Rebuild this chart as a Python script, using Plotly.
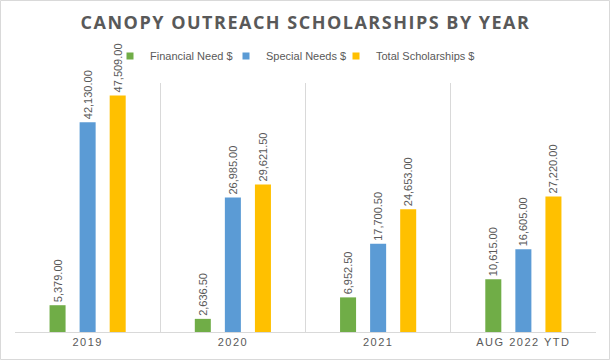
import plotly.graph_objects as go

categories = ["2019", "2020", "2021", "AUG 2022 YTD"]
financial_need = [5379.00, 2636.50, 6952.50, 10615.00]
special_needs = [42130.00, 26985.00, 17700.50, 16605.00]
total_scholarships = [47509.00, 29621.50, 24653.00, 27220.00]
series_names = ["Financial Need $", "Special Needs $", "Total Scholarships $"]
colors = ["#70AD47", "#5B9BD5", "#FFC000"]
title_text = "CANOPY OUTREACH SCHOLARSHIPS BY YEAR"

TXT = "#595959"
GRID = "#D9D9D9"
FONT = "Liberation Sans Narrow, Liberation Sans, sans-serif"

L, R, T, B = 15, 15, 83, 29
W, H = 611, 361
pw, ph = W - L - R, H - T - B

legend_ids = ["legend", "legend2", "legend3"]
legend_text_px = [150, 266, 376]

fig = go.Figure()
for name, vals, col, lid in zip(series_names, [financial_need, special_needs, total_scholarships], colors, legend_ids):
    fig.add_trace(go.Bar(
        x=categories, y=vals, name=name,
        marker=dict(color=col, line=dict(width=0)),
        text=[f"{v:,.2f}" for v in vals],
        textposition="outside", textangle=-90,
        constraintext="none", cliponaxis=False,
        textfont=dict(family=FONT, size=11, color=TXT),
        showlegend=False, hoverinfo="skip",
    ))
    fig.add_trace(go.Scatter(
        x=[None], y=[None], mode="markers", name=name,
        marker=dict(symbol="square", size=7, color=col),
        showlegend=True, legend=lid,
    ))

legend_common = dict(orientation="h", xanchor="left", y=(ph + T - 56) / ph,
                     yanchor="middle", font=dict(family=FONT, size=11, color=TXT),
                     itemwidth=30, bgcolor="rgba(0,0,0,0)", borderwidth=0)
legends = {}
for lid, px in zip(legend_ids, legend_text_px):
    legends[lid] = dict(legend_common, x=(px - 40 - L) / pw)

fig.update_layout(
    width=W, height=H,
    margin=dict(l=L, r=R, t=T, b=B, pad=0),
    paper_bgcolor="white", plot_bgcolor="white",
    barmode="group", bargap=0.379, bargroupgap=0.467,
    title=dict(text=title_text, x=0.5, xanchor="center", xref="container",
               y=1 - 23 / H, yanchor="middle", yref="container",
               font=dict(family="Open Sans", size=18, color=TXT, weight=700)),
    xaxis=dict(type="category", tickson="boundaries", showgrid=True, gridcolor=GRID,
               gridwidth=1, showline=True, linecolor=GRID, linewidth=1, ticks="",
               tickfont=dict(family=FONT, size=11, color=TXT), fixedrange=True,
               range=[-0.5, 3.5]),
    yaxis=dict(range=[0, 50000], visible=False, showgrid=False, zeroline=False,
               fixedrange=True),
    hovermode=False,
    shapes=[dict(type="rect", xref="paper", yref="paper",
                 x0=(0.5 - L) / pw, x1=(609.5 - L) / pw,
                 y0=(T + ph - 359.5) / ph, y1=(T + ph - 0.5) / ph,
                 line=dict(color=GRID, width=1), fillcolor="rgba(0,0,0,0)", layer="below")],
    **legends,
)

post = """
document.body.style.margin='0';
document.body.style.padding='0';
var gd = document.getElementById('{plot_id}');
gd.querySelectorAll('.gtitle').forEach(function(e){e.style.letterSpacing='1.5px';});
gd.querySelectorAll('.xtick text').forEach(function(e){e.style.letterSpacing='1.5px';});
"""
fig.write_html("out.html", post_script=post, config={"displayModeBar": False})
